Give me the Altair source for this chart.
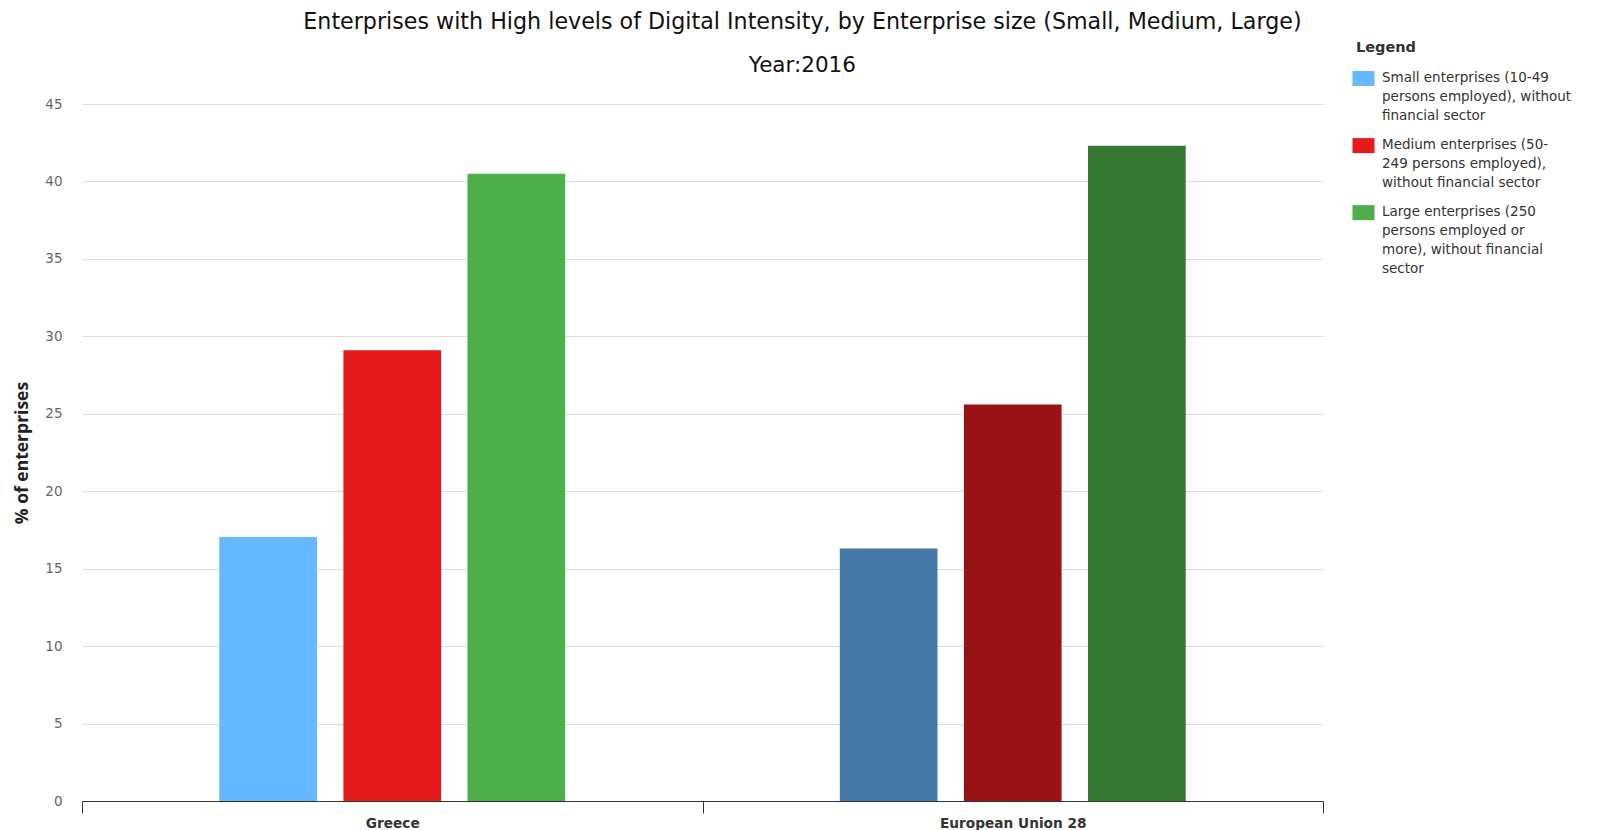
import altair as alt
import pandas as pd

countries = ["Greece", "European Union 28"]
sizes = [
    "Small enterprises (10-49 persons employed), without financial sector",
    "Medium enterprises (50-249 persons employed), without financial sector",
    "Large enterprises (250 persons employed or more), without financial sector",
]
size_lines = [
    ["Small enterprises (10-49", "persons employed), without", "financial sector"],
    ["Medium enterprises (50-", "249 persons employed),", "without financial sector"],
    ["Large enterprises (250", "persons employed or", "more), without financial", "sector"],
]
greece_values = [17.05, 29.1, 40.5]
eu_values = [16.3, 25.6, 42.3]
greece_colors = ["#66b9ff", "#e41a1c", "#4daf4a"]
eu_colors = ["#457aa8", "#991215", "#357733"]
y_ticks = [0, 5, 10, 15, 20, 25, 30, 35, 40, 45]

rows = []
for s, v in zip(sizes, greece_values):
    rows.append({"country": countries[0], "size": s, "value": v})
for s, v in zip(sizes, eu_values):
    rows.append({"country": countries[1], "size": s, "value": v})
df = pd.DataFrame(rows)

# legend label wrapping
expr = ""
for s, lines in zip(sizes, size_lines):
    arr = "[" + ",".join("'" + l + "'" for l in lines) + "]"
    expr += f"datum.label == '{s}' ? {arr} : "
expr += "datum.label"

FONT = "DejaVu Sans"

base = alt.Chart(df).encode(
    x=alt.X(
        "country:N",
        sort=countries,
        scale=alt.Scale(paddingInner=0, paddingOuter=0),
        axis=alt.Axis(
            title=None, labelAngle=0, tickBand="extent", domainColor="#333",
            tickColor="#333", tickSize=12, labelFontSize=13.7, labelColor="#333",
            labelFont=FONT, labelFontWeight="bold", labelPadding=3, grid=False,
        ),
    ),
    xOffset=alt.XOffset("size:N", sort=sizes,
                        scale=alt.Scale(paddingInner=0, paddingOuter=1)),
    y=alt.Y(
        "value:Q",
        scale=alt.Scale(domain=[0, 45], nice=False),
        axis=alt.Axis(
            title="% of enterprises", values=y_ticks, domain=False, ticks=False,
            labelPadding=20, labelColor="#666", labelFontSize=13.5, labelFont=FONT,
            gridColor="#dddddd", titleFontSize=17.5, titleColor="#222",
            titleFont="Open Sans", titleFontWeight="bold", titlePadding=13,
        ),
    ),
)

BAR_W = 97.7

greece = base.transform_filter(alt.datum.country == countries[0]).mark_bar(width=BAR_W).encode(
    color=alt.Color(
        "size:N",
        scale=alt.Scale(domain=sizes, range=greece_colors),
        legend=alt.Legend(
            title="Legend", orient="none", legendX=1274, legendY=-63,
            symbolType="M-1.47,0H1.47V2H-1.47Z", symbolSize=225,
            symbolStrokeWidth=0, symbolOpacity=1, labelExpr=expr, labelBaseline="top",
            labelFontSize=13.5, labelFont=FONT, labelColor="#333", labelLimit=400,
            labelOffset=11, titleFontSize=14.5, titleFont=FONT, titleColor="#333",
            titleFontWeight="bold", titlePadding=8, rowPadding=8.1,
        ),
    )
)
eu = base.transform_filter(alt.datum.country == countries[1]).mark_bar(width=BAR_W).encode(
    color=alt.Color("size:N", scale=alt.Scale(domain=sizes, range=eu_colors), legend=None)
)

chart = (
    alt.layer(greece, eu)
    .resolve_scale(color="independent")
    .properties(
        width=1241,
        height=697,
        padding={"left": 5, "top": 2, "right": 5, "bottom": 0},
        title=alt.TitleParams(
            text="Enterprises with High levels of Digital Intensity, by Enterprise size (Small, Medium, Large)",
            subtitle="Year:2016",
            fontSize=22.2, subtitleFontSize=21.5, font=FONT, subtitleFont=FONT,
            fontWeight="normal", color="#111", subtitleColor="#111",
            anchor="middle", frame="bounds", subtitlePadding=22, offset=-35.5, dx=9.5,
        ),
    )
    .configure(
        view={"stroke": "transparent"},
        style={"guide-label": {"lineHeight": 19}},
    )
)

chart.save("out.html", embed_options={"renderer": "svg", "actions": False})
